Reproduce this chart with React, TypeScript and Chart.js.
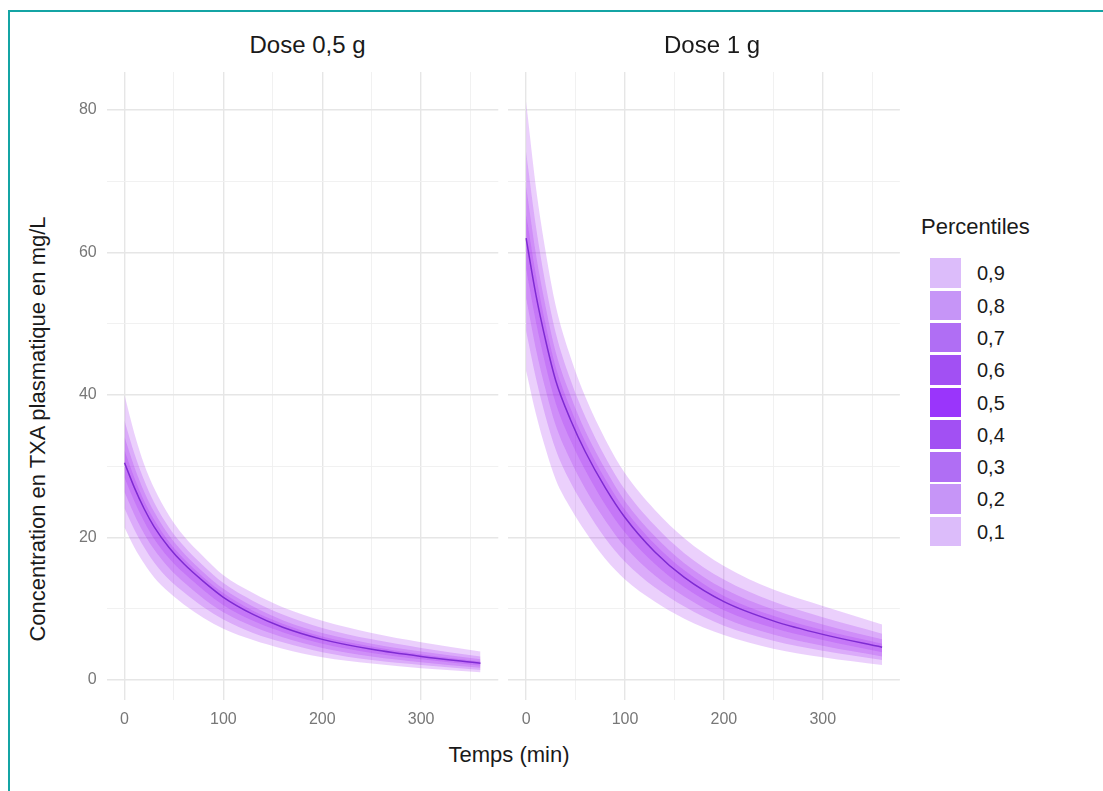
import React, { useEffect, useRef } from "react";
import { Chart, registerables } from "chart.js";

Chart.register(...registerables);

const FONT = '"Liberation Sans", Arial, Helvetica, sans-serif';

// Time points (min)
const TIMES = [0, 10, 20, 30, 45, 60, 80, 100, 130, 160, 200, 250, 300, 360];

// Dose 0,5 g percentiles (mg/L)
const P10_05 = [21.4, 18.6, 16.3, 14.4, 12.3, 10.6, 8.7, 7.2, 5.6, 4.4, 3.2, 2.3, 1.65, 1.1];
const P20_05 = [24.1, 21.1, 18.6, 16.5, 14.1, 12.3, 10.2, 8.5, 6.6, 5.3, 3.9, 2.8, 2.1, 1.4];
const P30_05 = [26.4, 23.2, 20.5, 18.3, 15.7, 13.7, 11.4, 9.5, 7.5, 6.0, 4.5, 3.3, 2.5, 1.7];
const P40_05 = [28.4, 25.1, 22.2, 19.8, 17.1, 15.0, 12.6, 10.5, 8.3, 6.7, 5.1, 3.8, 2.9, 2.0];
const P50_05 = [30.5, 27, 24, 21.5, 18.6, 16.3, 13.8, 11.6, 9.2, 7.4, 5.7, 4.3, 3.3, 2.35];
const P60_05 = [32.2, 28.4, 25.1, 22.5, 19.4, 17.0, 14.4, 12.2, 9.7, 7.9, 6.1, 4.7, 3.6, 2.6];
const P70_05 = [34.1, 29.9, 26.4, 23.6, 20.3, 17.8, 15.1, 12.8, 10.3, 8.4, 6.6, 5.1, 4.0, 2.9];
const P80_05 = [36.4, 31.8, 28.0, 24.9, 21.4, 18.8, 16.0, 13.6, 11.1, 9.2, 7.3, 5.7, 4.5, 3.3];
const P90_05 = [40.0, 34.6, 30.2, 26.9, 23.1, 20.2, 17.3, 14.7, 12.2, 10.2, 8.3, 6.6, 5.3, 4.0];

// Dose 1 g percentiles (mg/L)
const P10_1 = [43.4, 37.3, 32.3, 28.1, 24.1, 20.8, 17.0, 14.1, 11.0, 8.6, 6.3, 4.4, 3.2, 2.1];
const P20_1 = [49.0, 42.3, 36.8, 32.3, 27.7, 24.1, 19.9, 16.6, 13.0, 10.3, 7.6, 5.5, 4.1, 2.8];
const P30_1 = [53.6, 46.4, 40.6, 35.7, 30.8, 26.8, 22.4, 18.7, 14.7, 11.7, 8.7, 6.4, 4.8, 3.3];
const P40_1 = [57.7, 50.2, 44.0, 38.8, 33.6, 29.4, 24.6, 20.7, 16.3, 13.0, 9.8, 7.3, 5.6, 3.9];
const P50_1 = [62, 54, 47.5, 42, 36.5, 32, 27, 22.8, 18.0, 14.4, 11.0, 8.3, 6.4, 4.6];
const P60_1 = [65.4, 56.8, 49.7, 43.9, 38.1, 33.4, 28.2, 23.9, 19.1, 15.4, 11.8, 9.0, 7.0, 5.1];
const P70_1 = [69.3, 59.7, 52.2, 46.0, 39.9, 34.9, 29.6, 25.1, 20.2, 16.4, 12.8, 9.9, 7.8, 5.7];
const P80_1 = [74.1, 63.6, 55.3, 48.7, 42.1, 36.9, 31.3, 26.7, 21.7, 17.8, 14.1, 11.0, 8.8, 6.5];
const P90_1 = [81.2, 69.1, 59.9, 52.5, 45.3, 39.7, 33.8, 29.0, 23.9, 19.9, 16.0, 12.7, 10.4, 7.8];

const PANEL_TITLES = ["Dose 0,5 g", "Dose 1 g"];
const X_TITLE = "Temps (min)";
const Y_TITLE = "Concentration en TXA plasmatique en mg/L";
const LEGEND_TITLE = "Percentiles";
const LEGEND_LABELS = ["0,9", "0,8", "0,7", "0,6", "0,5", "0,4", "0,3", "0,2", "0,1"];
const LEGEND_COLORS = ["#dcbcfa", "#c695f7", "#b06ef4", "#a250f3", "#9a35fb", "#a250f3", "#b06ef4", "#c695f7", "#dcbcfa"];

const X_MIN = -18;
const X_MAX = 378;
const Y_MIN = -2.81;
const Y_MAX = 85.33;

const BAND_FILL = "rgba(160, 32, 240, 0.21)";
const MEDIAN_COLOR = "rgba(115, 30, 205, 0.85)";

type PanelProps = {
  bands: number[][]; // [p90,p10,p80,p20,p70,p30,p60,p40]
  median: number[];
  showY: boolean;
  left: number;
  top: number;
  width: number;
  height: number;
  padLeft: number;
  padRight: number;
  yAxisWidth: number;
};

function pts(arr: number[]) {
  return TIMES.map((t, i) => ({ x: t, y: arr[i] }));
}

function Panel(props: PanelProps) {
  const ref = useRef<HTMLCanvasElement | null>(null);
  useEffect(() => {
    if (!ref.current) return;
    const datasets: any[] = [];
    for (let b = 0; b < props.bands.length; b += 2) {
      datasets.push({
        data: pts(props.bands[b]),
        fill: "+1",
        backgroundColor: BAND_FILL,
        borderColor: "rgba(0,0,0,0)",
        borderWidth: 1,
        pointRadius: 0,
        cubicInterpolationMode: "monotone",
      });
      datasets.push({
        data: pts(props.bands[b + 1]),
        fill: false,
        borderColor: "rgba(0,0,0,0)",
        borderWidth: 1,
        pointRadius: 0,
        cubicInterpolationMode: "monotone",
      });
    }
    datasets.push({
      data: pts(props.median),
      fill: false,
      borderColor: MEDIAN_COLOR,
      borderWidth: 1.5,
      pointRadius: 0,
      cubicInterpolationMode: "monotone",
      order: -1,
    });

    const gridColor = (major: number) => (c: any) =>
      c.tick && Math.abs(c.tick.value % major) < 1e-6 ? "#e6e6e6" : "#efefef";
    const gridWidth = (major: number) => (c: any) =>
      c.tick && Math.abs(c.tick.value % major) < 1e-6 ? 1.4 : 0.9;

    const chart = new Chart(ref.current, {
      type: "line",
      data: { datasets },
      options: {
        animation: false,
        responsive: false,
        maintainAspectRatio: false,
        devicePixelRatio: 1,
        layout: { padding: { left: props.padLeft, right: props.padRight, top: 12, bottom: 0 } },
        plugins: { legend: { display: false }, tooltip: { enabled: false } },
        events: [],
        scales: {
          x: {
            type: "linear",
            min: X_MIN,
            max: X_MAX,
            border: { display: false },
            grid: { color: gridColor(100), lineWidth: gridWidth(100), drawTicks: false },
            ticks: {
              stepSize: 50,
              includeBounds: false,
              autoSkip: false,
              maxRotation: 0,
              padding: 10,
              color: "#777777",
              font: { family: FONT, size: 16 },
              callback: (v: any) => (Number(v) % 100 === 0 ? String(v) : ""),
            },
            afterFit: (s: any) => {
              s.height = 40;
              s.paddingLeft = 0;
              s.paddingRight = 0;
            },
          },
          y: {
            type: "linear",
            min: Y_MIN,
            max: Y_MAX,
            border: { display: false },
            grid: { color: gridColor(20), lineWidth: gridWidth(20), drawTicks: false },
            ticks: {
              display: props.showY,
              stepSize: 10,
              includeBounds: false,
              padding: 10,
              color: "#777777",
              font: { family: FONT, size: 16 },
              callback: (v: any) => (Number(v) % 20 === 0 ? String(v) : ""),
            },
            afterFit: (s: any) => {
              s.width = props.yAxisWidth;
              s.paddingTop = 0;
              s.paddingBottom = 0;
            },
          },
        },
      } as any,
    });
    return () => chart.destroy();
  }, []);

  return (
    <div style={{ position: "absolute", left: props.left, top: props.top, width: props.width, height: props.height }}>
      <canvas ref={ref} width={props.width} height={props.height} style={{ width: props.width, height: props.height, display: "block" }} />
    </div>
  );
}

const textBase: React.CSSProperties = {
  position: "absolute",
  fontFamily: FONT,
  whiteSpace: "nowrap",
  color: "#1a1a1a",
};

export default function App() {
  return (
    <div
      style={{
        position: "absolute",
        left: 0,
        top: 0,
        width: 1103,
        height: 791,
        overflow: "hidden",
        background: "#ffffff",
        fontFamily: FONT,
      }}
    >
      <div
        style={{
          position: "absolute",
          left: 8,
          top: 10,
          width: 1200,
          height: 900,
          borderLeft: "2px solid #14a4a4",
          borderTop: "2px solid #14a4a4",
        }}
      />
      <Panel
        bands={[P90_05, P10_05, P80_05, P20_05, P70_05, P30_05, P60_05, P40_05]}
        median={P50_05}
        showY={true}
        left={60}
        top={60}
        width={445}
        height={680}
        padLeft={0}
        padRight={6.7}
        yAxisWidth={46.7}
      />
      <Panel
        bands={[P90_1, P10_1, P80_1, P20_1, P70_1, P30_1, P60_1, P40_1]}
        median={P50_1}
        showY={false}
        left={500}
        top={60}
        width={410}
        height={680}
        padLeft={8.3}
        padRight={10.1}
        yAxisWidth={0}
      />
      {/* Facet titles */}
      <div style={{ ...textBase, left: 307.5, top: 33, fontSize: 24, lineHeight: "24px", transform: "translateX(-50%)" }}>
        {PANEL_TITLES[0]}
      </div>
      <div style={{ ...textBase, left: 712, top: 33, fontSize: 24, lineHeight: "24px", transform: "translateX(-50%)" }}>
        {PANEL_TITLES[1]}
      </div>
      {/* X axis title */}
      <div style={{ ...textBase, left: 509, top: 744, fontSize: 22, lineHeight: "22px", transform: "translateX(-50%)" }}>
        {X_TITLE}
      </div>
      {/* Y axis title */}
      <div
        style={{
          ...textBase,
          left: 38,
          top: 429,
          fontSize: 22,
          lineHeight: "22px",
          transform: "translate(-50%, -50%) rotate(-90deg)",
        }}
      >
        {Y_TITLE}
      </div>
      {/* Legend */}
      <div style={{ ...textBase, left: 921, top: 216, fontSize: 22, lineHeight: "22px" }}>{LEGEND_TITLE}</div>
      {LEGEND_LABELS.map((lab, i) => (
        <React.Fragment key={lab + i}>
          <div
            style={{
              position: "absolute",
              left: 930,
              top: 258.3 + i * 32.3,
              width: 30.5,
              height: 29.5,
              background: LEGEND_COLORS[i],
            }}
          />
          <div style={{ ...textBase, left: 977, top: 263.3 + i * 32.3, fontSize: 20, lineHeight: "20px" }}>{lab}</div>
        </React.Fragment>
      ))}
    </div>
  );
}
